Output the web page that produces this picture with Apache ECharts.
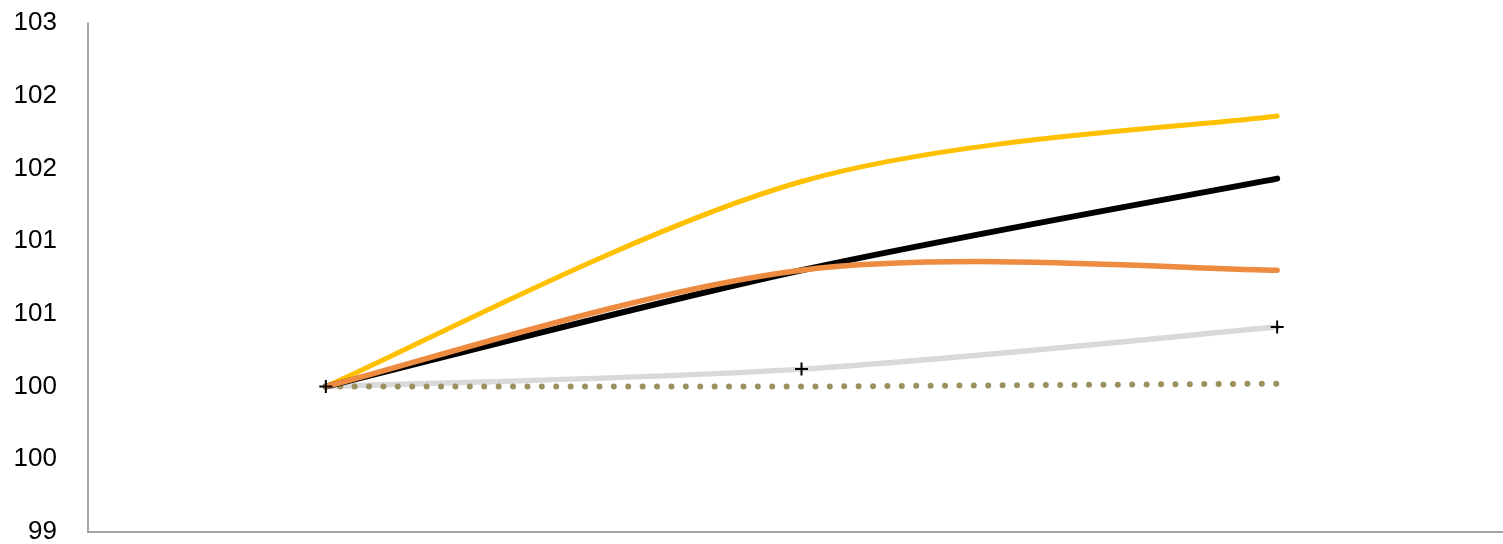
<!DOCTYPE html>
<html>
<head>
<meta charset="utf-8">
<script src="https://cdn.jsdelivr.net/npm/echarts@6/dist/echarts.min.js"></script>
<style>
html,body{margin:0;padding:0;background:#fff;}
#chart{width:1503px;height:544px;}
</style>
</head>
<body>
<div id="chart"></div>
<script>
const categories = ['P1', 'P2', 'P3'];
const seriesGray = [100, 100.12, 100.41];
const seriesDotted = [100, 100.0, 100.02];
const seriesYellow = [100, 101.41, 101.86];
const seriesBlack = [100, 100.80, 101.43];
const seriesOrange = [100, 100.80, 100.80];
const yTicks = { min: 99, max: 102.5, interval: 0.5 };

const chart = echarts.init(document.getElementById('chart'));
const plus = 'path://M5.5,0h2v5.5h5.5v2h-5.5v5.5h-2v-5.5h-5.5v-2h5.5z';

// Excel-like smoothed line (Catmull-Rom style, tension 1/6), drawn segment by segment
function smoothSeries(name, values, color, width, z) {
  return {
    name: name,
    type: 'custom',
    z: z,
    data: values.map((v, i) => [i, v]),
    encode: { x: 0, y: 1 },
    renderItem: function (params, api) {
      const i = params.dataIndex;
      const n = values.length;
      if (i >= n - 1) return null;
      const pt = k => api.coord([Math.max(0, Math.min(n - 1, k)), values[Math.max(0, Math.min(n - 1, k))]]);
      const p0 = pt(i - 1), p1 = pt(i), p2 = pt(i + 1), p3 = pt(i + 2);
      const t = 1 / 6;
      return {
        type: 'bezierCurve',
        shape: {
          x1: p1[0], y1: p1[1],
          cpx1: p1[0] + (p2[0] - p0[0]) * t, cpy1: p1[1] + (p2[1] - p0[1]) * t,
          cpx2: p2[0] - (p3[0] - p1[0]) * t, cpy2: p2[1] - (p3[1] - p1[1]) * t,
          x2: p2[0], y2: p2[1]
        },
        style: { stroke: color, lineWidth: width, fill: null, lineCap: 'round' }
      };
    }
  };
}

chart.setOption({
  animation: false,
  grid: { left: 88, right: -12, top: 23, bottom: 12, outerBoundsMode: 'none', containLabel: false },
  xAxis: {
    type: 'category',
    data: categories,
    boundaryGap: true,
    axisLine: { show: true, lineStyle: { color: '#898989', width: 1.5 } },
    axisTick: { show: false },
    axisLabel: { show: false },
    splitLine: { show: false }
  },
  yAxis: {
    type: 'value',
    min: yTicks.min, max: yTicks.max, interval: yTicks.interval,
    axisLine: { show: true, lineStyle: { color: '#898989', width: 1.5 } },
    axisTick: { show: false },
    splitLine: { show: false },
    axisLabel: {
      margin: 31,
      color: '#000',
      fontSize: 26,
      fontFamily: 'Liberation Sans, Arial, sans-serif',
      formatter: v => String(Math.round(v))
    }
  },
  series: [
    smoothSeries('gray', seriesGray, '#D9D9D9', 5.5, 2),
    {
      name: 'dotted', type: 'line', data: seriesDotted, smooth: false, z: 3,
      symbol: 'none',
      lineStyle: { color: '#9A915E', width: 6, type: [0, 14.4], cap: 'round' }
    },
    smoothSeries('yellow', seriesYellow, '#FFC000', 5, 4),
    smoothSeries('black', seriesBlack, '#000000', 6, 5),
    smoothSeries('orange', seriesOrange, '#ED8B40', 5.5, 6),
    {
      name: 'grayMarkers', type: 'line', data: seriesGray, z: 7,
      lineStyle: { opacity: 0, width: 0 },
      symbol: plus, symbolSize: 13, showSymbol: true,
      itemStyle: { color: '#000' }
    }
  ]
});
</script>
</body>
</html>
